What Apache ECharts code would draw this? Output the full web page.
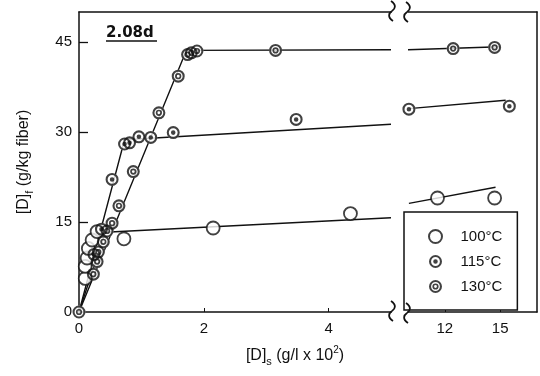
<!DOCTYPE html>
<html>
<head>
<meta charset="utf-8">
<script src="https://cdn.jsdelivr.net/npm/echarts@6/dist/echarts.min.js"></script>
<style>
  html, body { margin: 0; padding: 0; background: #fff; }
  #main { width: 540px; height: 376px; }
</style>
</head>
<body>
<div id="main"></div>
<script>
// measured points, [Ds (g/l x 10^2), Df (g/kg fiber)]
var pts100 = [[0.10, 5.6], [0.10, 7.6], [0.13, 9.0], [0.15, 10.6], [0.21, 12.0], [0.29, 13.4],
  [0.72, 12.2], [2.15, 14.0], [4.35, 16.4], [11.6, 19.0], [14.7, 19.0]];
var pts115 = [[0.24, 9.6], [0.36, 13.8], [0.53, 22.1], [0.73, 28.0], [0.81, 28.2], [0.96, 29.2],
  [1.15, 29.1], [1.51, 29.9], [3.48, 32.1], [10.05, 33.8], [15.5, 34.3]];
var pts130 = [[0, 0], [0.23, 6.3], [0.29, 8.4], [0.31, 10.0], [0.39, 11.7], [0.45, 13.5],
  [0.53, 14.8], [0.64, 17.7], [0.87, 23.4], [1.28, 33.2], [1.59, 39.3], [1.74, 42.9],
  [1.80, 43.2], [1.89, 43.5], [3.15, 43.6], [12.45, 43.9], [14.7, 44.1]];

// hand drawn lines through the points
var fit100 = [[0, 0], [0.42, 13.3], [5, 15.7]];
var fit100b = [[10.05, 18.1], [14.75, 20.8]];
var fit115 = [[0, 0], [0.73, 28.7], [5, 31.3]];
var fit115b = [[10.05, 33.9], [15.3, 35.3]];
var fit130 = [[0, 0], [1.72, 43.6], [5, 43.7]];
var fit130b = [[10, 43.7], [15, 44.2]];

var xTicksLeft = [0, 2, 4];
var xTicksRight = [12, 15];
var yTicks = [0, 15, 30, 45];
var names = ['100°C', '115°C', '130°C'];

// ring with dot, ring with small ring
var symDot = 'path://M0,-10A10,10,0,1,1,0,10A10,10,0,1,1,0,-10Z' +
  'M0,-6.8A6.8,6.8,0,1,0,0,6.8A6.8,6.8,0,1,0,0,-6.8Z' +
  'M0,-3.5A3.5,3.5,0,1,1,0,3.5A3.5,3.5,0,1,1,0,-3.5Z';
var symRing = 'path://M0,-10A10,10,0,1,1,0,10A10,10,0,1,1,0,-10Z' +
  'M0,-6.8A6.8,6.8,0,1,0,0,6.8A6.8,6.8,0,1,0,0,-6.8Z' +
  'M0,-4.8A4.8,4.8,0,1,1,0,4.8A4.8,4.8,0,1,1,0,-4.8Z' +
  'M0,-2.2A2.2,2.2,0,1,0,0,2.2A2.2,2.2,0,1,0,0,-2.2Z';

var INK = '#111';
var FONT = 'Liberation Sans, Arial, sans-serif';

function leftPart(a) { return a.filter(function (p) { return p[0] <= 5; }); }
function rightPart(a) { return a.filter(function (p) { return p[0] >= 10; }); }

var series = [];
function addLine(data, g) {
  series.push({
    type: 'line', data: data, xAxisIndex: g ? 2 : 0, yAxisIndex: g ? 1 : 0,
    symbol: 'none', silent: true, z: 2,
    lineStyle: { color: INK, width: 1.4 }
  });
}
function addMarks(name, pts, symbol, style, withBg) {
  [0, 1].forEach(function (g) {
    var d = g ? rightPart(pts) : leftPart(pts);
    if (withBg) {
      series.push({
        type: 'scatter', name: name + ' bg', data: d, xAxisIndex: g ? 2 : 0, yAxisIndex: g ? 1 : 0,
        symbol: 'circle', symbolSize: 13, clip: false, silent: true, z: 3,
        itemStyle: { color: '#fff' }
      });
    }
    series.push({
      type: 'scatter', name: name, data: d, xAxisIndex: g ? 2 : 0, yAxisIndex: g ? 1 : 0,
      symbol: symbol, symbolSize: 13, clip: false, silent: true, z: 4,
      itemStyle: style
    });
  });
}

addLine(fit100, 0); addLine(fit100b, 1);
addLine(fit115, 0); addLine(fit115b, 1);
addLine(fit130, 0); addLine(fit130b, 1);
addMarks(names[0], pts100, 'circle', { color: '#fff', borderColor: INK, borderWidth: 1.8 }, false);
addMarks(names[1], pts115, symDot, { color: INK }, true);
addMarks(names[2], pts130, symRing, { color: INK }, true);

var axisLine = { show: true, lineStyle: { color: INK, width: 1.5 } };
var plain = {
  axisLine: axisLine, axisTick: { show: false }, axisLabel: { show: false }, splitLine: { show: false }
};

// axis break mark, two curves making an S
function squiggle(x, y) {
  var st = { fill: null, stroke: INK, lineWidth: 1.8 };
  return [
    { type: 'bezierCurve', z: 10, style: st,
      shape: { x1: x - 1, y1: y - 10, cpx1: x + 5, cpy1: y - 6, cpx2: x + 3, cpy2: y - 2, x2: x, y2: y } },
    { type: 'bezierCurve', z: 10, style: st,
      shape: { x1: x, y1: y, cpx1: x - 3, cpy1: y + 2, cpx2: x - 5, cpy2: y + 6, x2: x + 1, y2: y + 10 } }
  ];
}

var chart = echarts.init(document.getElementById('main'));
chart.setOption({
  animation: false,
  backgroundColor: '#fff',
  textStyle: { fontFamily: FONT },
  grid: [
    { left: 79, top: 12, width: 312, height: 300 },
    { left: 408, top: 12, width: 129, height: 300 }
  ],
  xAxis: [
    {
      gridIndex: 0, type: 'value', min: 0, max: 5, position: 'bottom',
      axisLine: axisLine, splitLine: { show: false },
      axisTick: { inside: true, length: 4, customValues: xTicksLeft, lineStyle: { color: INK } },
      axisLabel: { customValues: xTicksLeft, color: INK, fontSize: 15, margin: 9, fontFamily: FONT }
    },
    Object.assign({ gridIndex: 0, type: 'value', min: 0, max: 5, position: 'top' }, plain),
    {
      gridIndex: 1, type: 'value', min: 10, max: 17, position: 'bottom',
      axisLine: axisLine, splitLine: { show: false },
      axisTick: { inside: true, length: 4, customValues: xTicksRight, lineStyle: { color: INK } },
      axisLabel: { customValues: xTicksRight, color: INK, fontSize: 15, margin: 9, fontFamily: FONT }
    },
    Object.assign({ gridIndex: 1, type: 'value', min: 10, max: 17, position: 'top' }, plain)
  ],
  yAxis: [
    {
      gridIndex: 0, type: 'value', min: 0, max: 50, position: 'left',
      axisLine: axisLine, splitLine: { show: false },
      axisTick: { inside: true, length: 9, customValues: [15, 30, 45], lineStyle: { color: INK, width: 1.3 } },
      axisLabel: { customValues: yTicks, color: INK, fontSize: 15, margin: 7, fontFamily: FONT }
    },
    Object.assign({ gridIndex: 1, type: 'value', min: 0, max: 50, position: 'right' }, plain)
  ],
  legend: {
    data: names, orient: 'vertical', left: 404, top: 212,
    padding: [17, 15, 16, 24], itemGap: 10, itemWidth: 40, itemHeight: 13,
    borderColor: INK, borderWidth: 1.5, backgroundColor: '#fff', selectedMode: false,
    textStyle: { fontSize: 15, color: INK, fontFamily: FONT }
  },
  graphic: [
    {
      type: 'text', x: 106, y: 26, z: 10,
      style: { text: '2.08d', font: 'bold 15px "DejaVu Sans"', fill: INK }
    },
    { type: 'line', z: 10, shape: { x1: 106, y1: 41, x2: 157, y2: 41 }, style: { stroke: INK, lineWidth: 1.5 } },
    {
      type: 'text', x: 24, y: 162, rotation: Math.PI / 2, z: 10,
      style: {
        text: '[D]{sub|f} (g/kg fiber)', align: 'center', verticalAlign: 'middle',
        font: '16px ' + FONT, fill: INK, lineHeight: 22,
        rich: { sub: { fontSize: 11, fontFamily: FONT, verticalAlign: 'bottom', lineHeight: 11, fill: INK } }
      }
    },
    {
      type: 'text', x: 295, y: 356, z: 10,
      style: {
        text: '[D]{sub|s} (g/l x 10{sup|2})', align: 'center', verticalAlign: 'middle',
        font: '16px ' + FONT, fill: INK, lineHeight: 22,
        rich: {
          sub: { fontSize: 11, fontFamily: FONT, verticalAlign: 'bottom', lineHeight: 11, fill: INK },
          sup: { fontSize: 10, fontFamily: FONT, verticalAlign: 'top', lineHeight: 10, fill: INK }
        }
      }
    }
  ].concat(squiggle(392, 11), squiggle(407, 12), squiggle(392, 311), squiggle(407, 313)),
  series: series
});
</script>
</body>
</html>
